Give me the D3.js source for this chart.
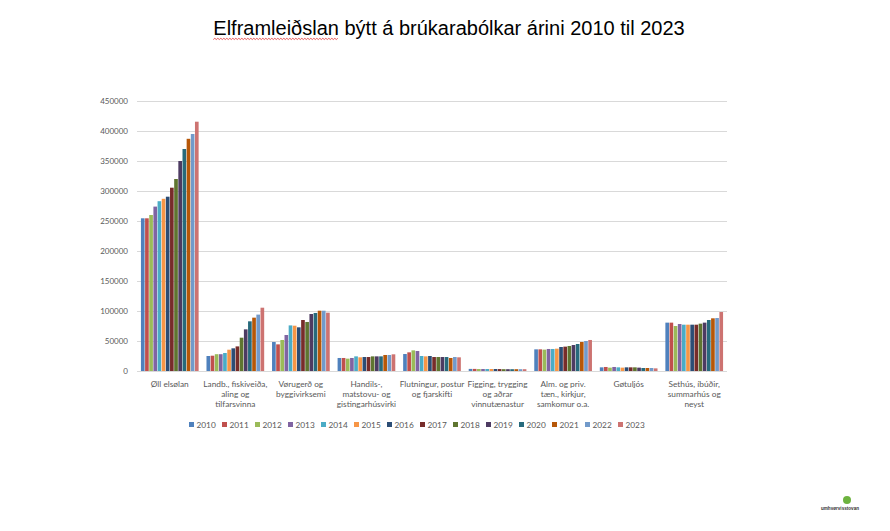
<!DOCTYPE html>
<html>
<head>
<meta charset="utf-8">
<script src="https://cdn.jsdelivr.net/npm/d3@7/dist/d3.min.js"></script>
<style>
  html, body { margin: 0; padding: 0; background: #fff; }
  svg { display: block; }
</style>
</head>
<body>
<svg id="chart" width="890" height="531"></svg>
<script>
const title = "Elframleiðslan býtt á brúkarabólkar árini 2010 til 2023";
const years = ["2010","2011","2012","2013","2014","2015","2016","2017","2018","2019","2020","2021","2022","2023"];
const colors = ["#4F81BD","#C0504D","#9BBB59","#8064A2","#4BACC6","#F79646","#2C4D75","#772C2A","#5F7530","#4D3B62","#276A7C","#B65708","#729ACA","#CD7371"];
const categories = [
  ["Øll elsølan"],
  ["Landb., fiskiveiða,", "aling og", "tilfarsvinna"],
  ["Vørugerð og", "byggivirksemi"],
  ["Handils-,", "matstovu- og", "gistingarhúsvirki"],
  ["Flutningur, postur", "og fjarskifti"],
  ["Figging, trygging", "og aðrar", "vinnutænastur"],
  ["Alm. og priv.", "tæn., kirkjur,", "samkomur o.a."],
  ["Gøtuljós"],
  ["Sethús, íbúðir,", "summarhús og", "neyst"]
];
// values per category, one per year 2010..2023
const ollElsolan   = [254500, 254500, 260000, 274000, 283000, 287000, 290500, 305500, 320000, 350000, 370000, 387000, 395000, 415500];
const landbunadur  = [25000, 25500, 28000, 28000, 30000, 35500, 37800, 41000, 55500, 69400, 82800, 88900, 94000, 105500];
const vorugerd     = [48300, 44400, 51700, 60000, 76000, 75500, 72800, 85000, 81700, 95000, 96700, 100500, 100500, 97200];
const handil       = [21700, 21700, 20600, 21700, 24400, 22800, 23300, 23300, 24400, 24400, 24400, 26700, 26700, 27800];
const flutningur   = [28300, 31100, 34400, 33300, 25000, 24400, 25000, 23300, 23300, 23300, 23300, 21700, 23300, 22800];
const figging      = [3500, 3500, 3300, 3300, 3300, 3300, 3300, 3200, 3000, 3000, 3000, 3000, 3000, 3000];
const almPriv      = [36100, 36100, 35600, 36700, 36700, 37200, 40000, 40600, 41700, 43300, 45000, 48300, 50000, 51700];
const gotuljos     = [6100, 6700, 5600, 6700, 6100, 5600, 6100, 6100, 6100, 5600, 5000, 5000, 5000, 4400];
const sethus       = [80600, 80600, 75000, 78300, 77200, 77200, 77200, 77200, 78900, 80600, 85000, 87800, 88300, 98300];
const yTicks = [0, 50000, 100000, 150000, 200000, 250000, 300000, 350000, 400000, 450000];

const seriesByCategory = [ollElsolan, landbunadur, vorugerd, handil, flutningur, figging, almPriv, gotuljos, sethus];
const table = categories.map((c, i) => ({ key: i, lines: c, values: seriesByCategory[i] }));

const svg = d3.select("#chart");
const font = "Lato, 'Open Sans', sans-serif";
const titleFont = "'Liberation Sans', Arial, sans-serif";
const plot = { left: 137, right: 727, top: 101, bottom: 371 };

// Title
const t = svg.append("text")
  .attr("x", 449).attr("y", 35)
  .attr("text-anchor", "middle")
  .attr("font-family", titleFont)
  .attr("font-size", 20)
  .attr("fill", "#000")
  .text(title);

// wavy spellcheck underline under first word
(function(){
  const tmp = svg.append("text").attr("font-family", titleFont).attr("font-size", 20).text("Elframleiðslan");
  const w = tmp.node().getComputedTextLength(); tmp.remove();
  const full = t.node().getComputedTextLength();
  const x0 = 449 - full/2, x1 = x0 + w, yy = 39.5;
  let d = `M${x0},${yy}`;
  let up = true;
  for (let x = x0 + 1.5; x <= x1; x += 1.5) { d += `L${x},${up ? yy - 1.2 : yy}`; up = !up; }
  svg.append("path").attr("d", d).attr("fill","none").attr("stroke","#e03030").attr("stroke-width",0.8);
})();

const y = d3.scaleLinear().domain([0, 450000]).range([plot.bottom, plot.top]);
const x0 = d3.scaleBand().domain(table.map(d => d.key)).range([plot.left, plot.right]).paddingInner(0.12).paddingOuter(0.06);
const x1 = d3.scaleBand().domain(years).range([0, x0.bandwidth()]).paddingInner(0.12);
const color = d3.scaleOrdinal().domain(years).range(colors);

// gridlines
svg.append("g").selectAll("line").data(yTicks.slice(1)).join("line")
  .attr("x1", plot.left).attr("x2", plot.right)
  .attr("y1", d => Math.round(y(d)) + 0.5).attr("y2", d => Math.round(y(d)) + 0.5)
  .attr("stroke", "#d9d9d9").attr("stroke-width", 1);

// y axis labels
const yAxis = d3.axisLeft(y).tickValues(yTicks).tickSize(0).tickPadding(0).tickFormat(d3.format("d"));
const gy = svg.append("g").attr("transform", `translate(${plot.left - 9},0)`).call(yAxis);
gy.select(".domain").remove();
gy.selectAll("text").attr("font-family", font).attr("font-size", 8).attr("fill", "#595959");

// bars
const groups = svg.append("g").selectAll("g").data(table).join("g")
  .attr("transform", d => `translate(${x0(d.key)},0)`);
groups.selectAll("rect").data(d => d.values.map((v, i) => ({ year: years[i], v })))
  .join("rect")
  .attr("x", d => x1(d.year))
  .attr("width", x1.bandwidth())
  .attr("y", d => y(d.v))
  .attr("height", d => y(0) - y(d.v))
  .attr("fill", d => color(d.year));

// baseline
svg.append("line").attr("x1", plot.left).attr("x2", plot.right)
  .attr("y1", plot.bottom + 0.5).attr("y2", plot.bottom + 0.5)
  .attr("stroke", "#d9d9d9").attr("stroke-width", 1);

// category labels
const xl = svg.append("g");
table.forEach(d => {
  const cx = x0(d.key) + x0.bandwidth() / 2;
  const tx = xl.append("text").attr("text-anchor", "middle")
    .attr("font-family", font).attr("font-size", 8.3).attr("fill", "#595959");
  d.lines.forEach((ln, i) => {
    tx.append("tspan").attr("x", cx).attr("y", 387 + i * 9.8).text(ln);
  });
});

// legend
const lg = svg.append("g");
years.forEach((yr, i) => {
  const lx = 189 + i * 33;
  lg.append("rect").attr("x", lx).attr("y", 422).attr("width", 5).attr("height", 5).attr("fill", color(yr));
  lg.append("text").attr("x", lx + 7.5).attr("y", 427.5)
    .attr("font-family", font).attr("font-size", 8.3).attr("fill", "#595959").text(yr);
});

// logo
svg.append("circle").attr("cx", 847).attr("cy", 500).attr("r", 4).attr("fill", "#6db33f");
svg.append("text").attr("x", 840).attr("y", 510).attr("text-anchor", "middle")
  .attr("font-family", titleFont).attr("font-size", 4.6).attr("font-weight", "bold")
  .attr("fill", "#333").text("umhvørvisstovan");
</script>
</body>
</html>
